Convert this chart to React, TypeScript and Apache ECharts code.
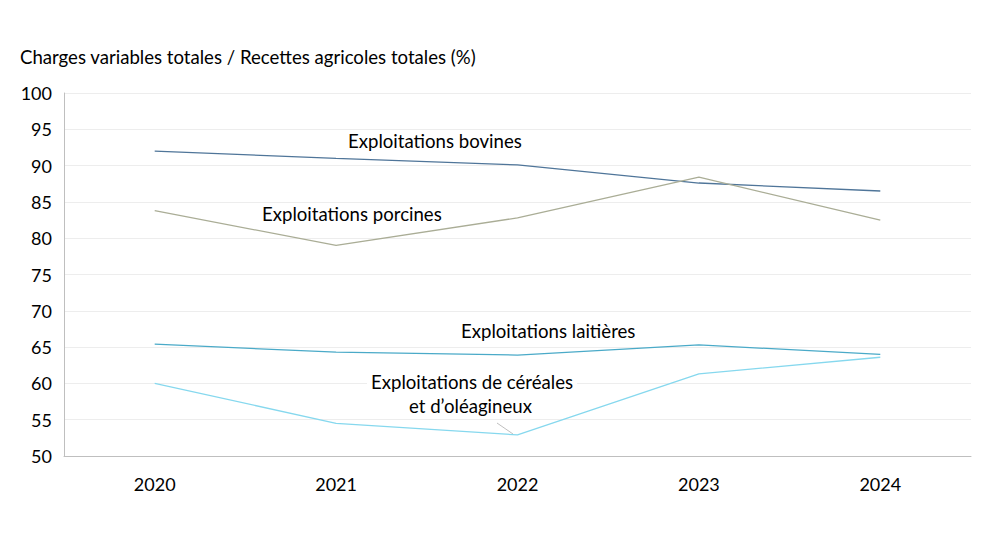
import { useEffect, useRef } from 'react';
import * as echarts from 'echarts';

const years = ['2020', '2021', '2022', '2023', '2024'];
const bovines = [92.0, 91.0, 90.1, 87.6, 86.5];
const porcines = [83.8, 79.0, 82.8, 88.4, 82.5];
const laitieres = [65.4, 64.3, 63.9, 65.3, 64.0];
const cereales = [60.0, 54.5, 52.9, 61.3, 63.6];

const yTitle = 'Charges variables totales / Recettes agricoles totales (%)';
const FONT = 'Lato, "Open Sans", sans-serif';

function label(text: string, x: number, y: number, bg = false) {
  return {
    type: 'text' as const,
    left: x,
    top: y,
    z: 10,
    style: {
      text,
      fill: '#000',
      font: `18.6px ${FONT}`,
      backgroundColor: bg ? '#fff' : undefined,
      padding: bg ? [0, 4] : 0
    }
  };
}

export default function App() {
  const ref = useRef<HTMLDivElement | null>(null);

  useEffect(() => {
    document.body.style.margin = '0';
    if (!ref.current) return undefined;
    const chart = echarts.init(ref.current, null, { renderer: 'svg' });
    const line = (name: string, data: number[], color: string) => ({
      name,
      type: 'line' as const,
      data,
      symbol: 'none',
      lineStyle: { width: 1.3, color },
      z: 3
    });
    chart.setOption({
      animation: false,
      textStyle: { fontFamily: FONT },
      grid: { left: 64, right: 21, top: 93, bottom: 102 },
      xAxis: {
        type: 'category',
        data: years,
        boundaryGap: true,
        axisLine: { lineStyle: { color: '#bfbfbf', width: 1 } },
        axisTick: { show: false },
        axisLabel: { color: '#000', fontSize: 18, margin: 19 }
      },
      yAxis: {
        type: 'value',
        min: 50,
        max: 100,
        interval: 5,
        axisLine: { show: true, lineStyle: { color: '#bfbfbf', width: 1 } },
        axisTick: { show: false },
        axisLabel: { color: '#000', fontSize: 18, margin: 12 },
        splitLine: { lineStyle: { color: '#ededed', width: 1 } }
      },
      graphic: [
        {
          type: 'text',
          left: 20,
          top: 47,
          style: { text: yTitle, fill: '#000', font: `18.6px ${FONT}` }
        },
        label('Exploitations bovines', 348, 131),
        label('Exploitations porcines', 262, 204),
        label('Exploitations laitières', 461, 321),
        label('Exploitations de céréales', 367, 372, true),
        label('et d’oléagineux', 409, 396),
        {
          type: 'line',
          shape: { x1: 497, y1: 423, x2: 513, y2: 434 },
          style: { stroke: '#bfbfbf', lineWidth: 1 }
        }
      ],
      series: [
        line('Exploitations bovines', bovines, '#4f7599'),
        line('Exploitations porcines', porcines, '#aaad96'),
        line('Exploitations laitières', laitieres, '#4aaac8'),
        line('Exploitations de céréales et d’oléagineux', cereales, '#86d8ee')
      ]
    });
    return () => chart.dispose();
  }, []);

  return <div ref={ref} style={{ width: 992, height: 558 }} />;
}
